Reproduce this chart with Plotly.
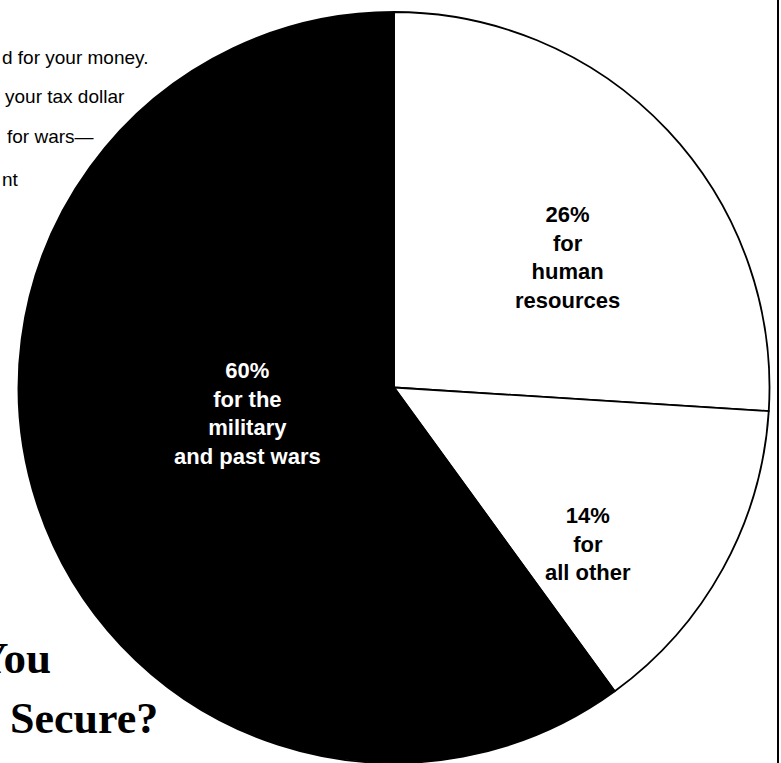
import plotly.graph_objects as go

labels = ["human resources", "all other", "military and past wars"]
values = [26, 14, 60]
slice_colors = ["white", "white", "black"]
slice_texts = ["26%<br>for<br>human<br>resources", "14%<br>for<br>all other", "60%<br>for the<br>military<br>and past wars"]
text_colors = ["black", "black", "white"]
text_pos = [(567, 257), (588, 544), (247, 413)]

side_lines = ["d for your money.", "your tax dollar", "for wars\u2014", "nt"]
side_pos = [(0, 57), (3, 97), (5, 137), (0, 180)]

W, H = 781, 763

fig = go.Figure()
fig.add_trace(go.Pie(
    labels=labels, values=values, sort=False, direction="clockwise", rotation=0,
    marker=dict(colors=slice_colors, line=dict(color="black", width=1.8)),
    textinfo="none", hoverinfo="label+percent", showlegend=False,
    domain=dict(x=[18.5 / W, 769.5 / W], y=[0, 751 / H]),
))

for t, c, (px, py) in zip(slice_texts, text_colors, text_pos):
    fig.add_annotation(x=px / W, y=1 - py / H, xref="paper", yref="paper",
                       text=t, showarrow=False, xanchor="center", yanchor="middle",
                       align="center",
                       font=dict(family="Liberation Sans", size=22, color=c, weight="bold"))

for t, (px, py) in zip(side_lines, side_pos):
    fig.add_annotation(x=px / W, y=1 - py / H, xref="paper", yref="paper",
                       text=t, showarrow=False, xanchor="left", yanchor="middle",
                       font=dict(family="Liberation Sans", size=19, color="black"))

fig.add_annotation(x=53 / W, y=1 - 658 / H, xref="paper", yref="paper", text="You",
                   showarrow=False, xanchor="right", yanchor="middle",
                   font=dict(family="Liberation Serif", size=45, color="black", weight="bold"))
fig.add_annotation(x=8 / W, y=1 - 718 / H, xref="paper", yref="paper", text="Secure?",
                   showarrow=False, xanchor="left", yanchor="middle",
                   font=dict(family="Liberation Serif", size=44, color="black", weight="bold"))

fig.add_shape(type="line", xref="paper", yref="paper", x0=778 / W, x1=778 / W, y0=0, y1=1,
              line=dict(color="black", width=2))

fig.update_layout(width=W, height=H, margin=dict(l=0, r=0, t=0, b=0),
                  paper_bgcolor="white", plot_bgcolor="white")
fig.write_html("out.html")
